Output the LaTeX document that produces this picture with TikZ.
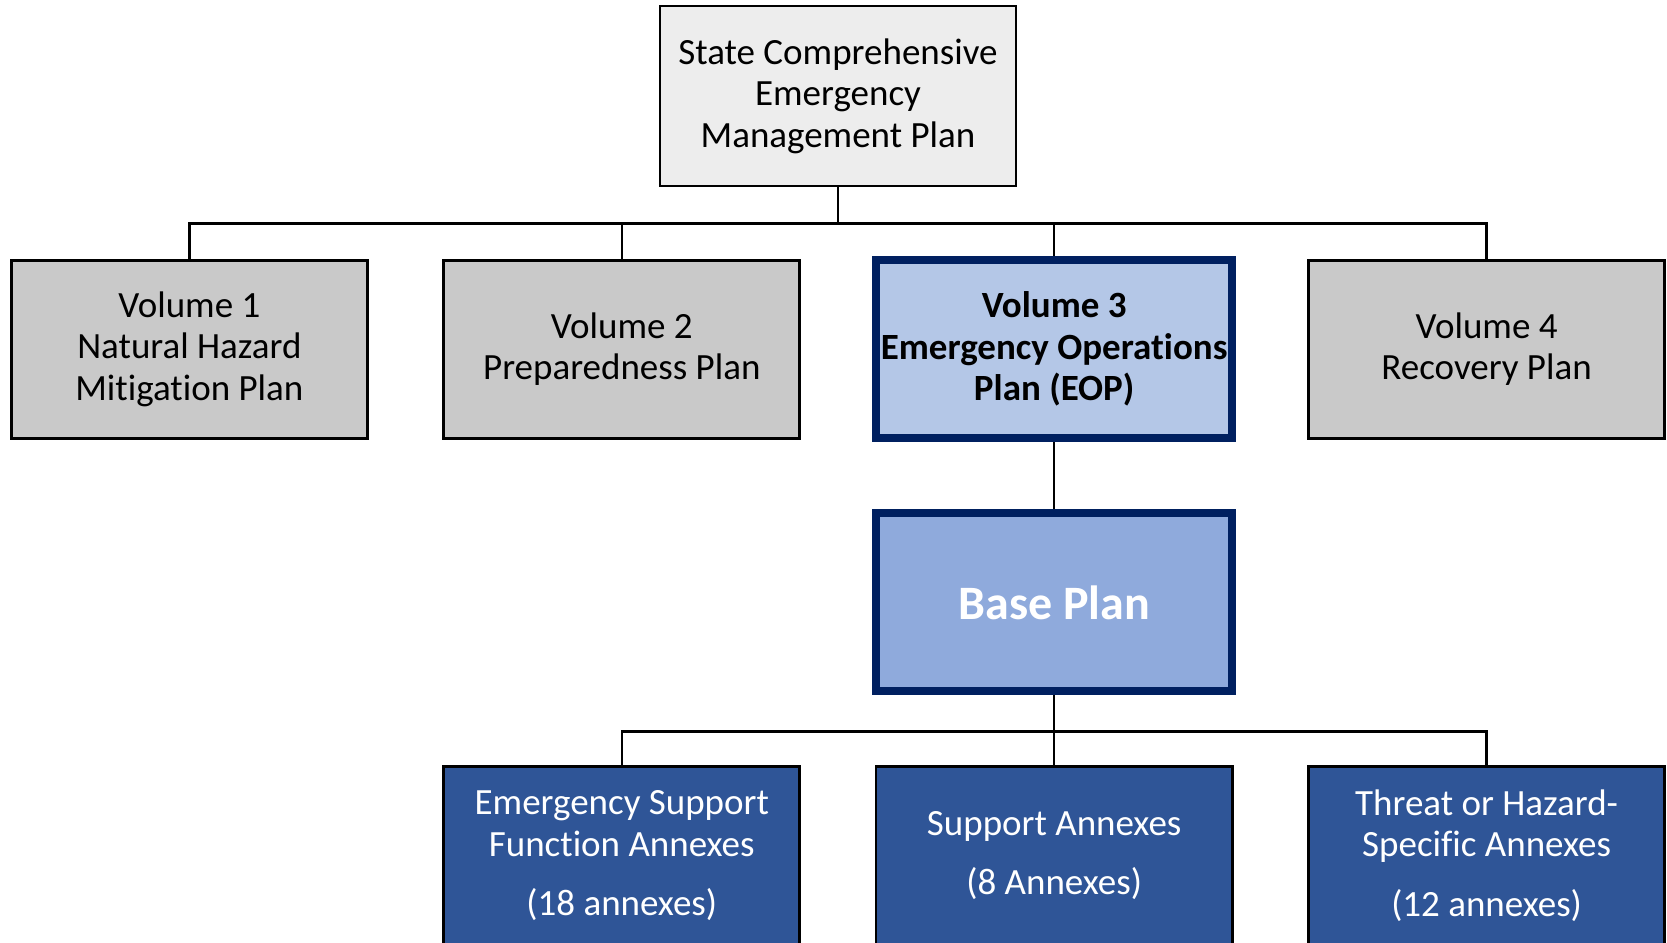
\documentclass[tikz,border=0pt]{standalone}
\usepackage{fontspec}
\setmainfont[Ligatures=NoCommon]{Carlito}
\usepackage{xcolor}
\usepackage{tikz}

\definecolor{topgray}{HTML}{EDEDED}
\definecolor{volgray}{HTML}{C9C9C9}
\definecolor{eopblue}{HTML}{B4C7E7}
\definecolor{baseblue}{HTML}{8FAADC}
\definecolor{annexblue}{HTML}{2F5597}
\definecolor{navy}{HTML}{002060}

\begin{document}
\begin{tikzpicture}[
	edge from parent/.style={draw, line width=1.2pt},
	edge from parent path={(\tikzparentnode\tikzparentanchor) -- ++(0,-18pt) -| (\tikzchildnode\tikzchildanchor)},
	parent anchor=south, child anchor=north,
	every node/.style={draw, line width=1.3pt, minimum width=178pt, minimum height=89pt, inner sep=1pt, align=center, font=\fontsize{18.5}{20.8}\selectfont},
	topbox/.style={fill=topgray, minimum height=90pt},
	volbox/.style={fill=volgray},
	eopbox/.style={fill=eopblue, draw=navy, line width=4pt, font=\fontsize{18.5}{20.8}\selectfont\bfseries},
	basebox/.style={fill=baseblue, draw=navy, line width=4pt, text=white, font=\fontsize{24}{28}\selectfont\bfseries},
	annexbox/.style={fill=annexblue, text=white},
	level distance=126.6pt,
	sibling distance=216.2pt
	]
	\useasboundingbox (-419pt,48pt) rectangle (414.5pt,-423.5pt);
	\node[topbox] (scemp) {State Comprehensive\\Emergency\\Management Plan}
	child { node[volbox] (vol1) {Volume 1\\Natural Hazard\\Mitigation Plan} }
	child { node[volbox] (vol2) {Volume 2\\Preparedness Plan} }
	child { node[eopbox] (vol3) {Volume 3\\Emergency Operations\\Plan (EOP)}
		child { node[basebox] (base) {Base Plan}
			child { node[annexbox] (esf) {Emergency Support\\Function Annexes\\[9pt](18 annexes)} }
			child { node[annexbox] (supp) {Support Annexes\\[9pt](8 Annexes)} }
			child { node[annexbox] (threat) {Threat or Hazard-\\Specific Annexes\\[9pt](12 annexes)} }
		}
	}
	child { node[volbox] (vol4) {Volume 4\\Recovery Plan} };
\end{tikzpicture}
\end{document}
